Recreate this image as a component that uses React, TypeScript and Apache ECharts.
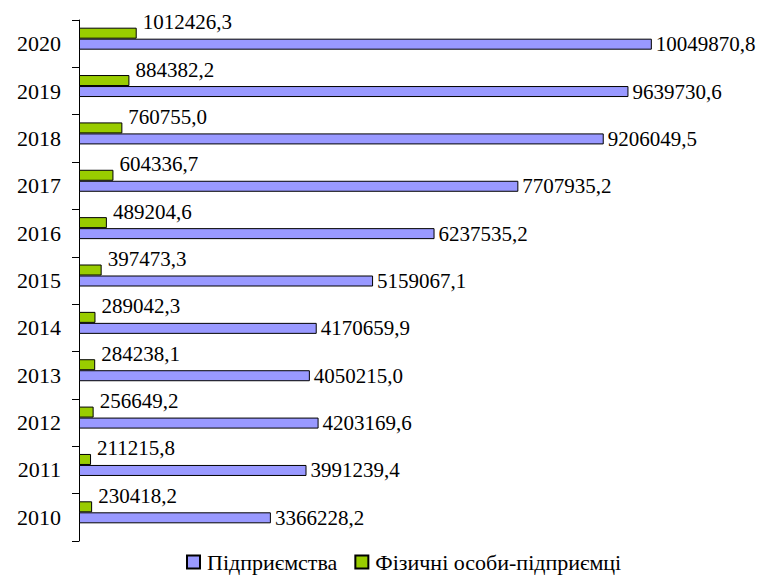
import React, { useEffect, useRef } from "react";
import * as echarts from "echarts";

const years = ["2010", "2011", "2012", "2013", "2014", "2015", "2016", "2017", "2018", "2019", "2020"];
const enterprises = [3366228.2, 3991239.4, 4203169.6, 4050215.0, 4170659.9, 5159067.1, 6237535.2, 7707935.2, 9206049.5, 9639730.6, 10049870.8];
const individuals = [230418.2, 211215.8, 256649.2, 284238.1, 289042.3, 397473.3, 489204.6, 604336.7, 760755.0, 884382.2, 1012426.3];
const seriesNames = ["Підприємства", "Фізичні особи-підприємці"];

const FONT = "Liberation Serif";
const fmt = (p: any) => Number(p.value).toFixed(1).replace(".", ",");

export default function App() {
  const ref = useRef<HTMLDivElement>(null);
  useEffect(() => {
    document.body.style.margin = "0";
    const chart = echarts.init(ref.current!, null, { renderer: "svg" });
    chart.setOption({
      animation: false,
      backgroundColor: "#ffffff",
      textStyle: { fontFamily: FONT },
      grid: [
        { left: 79, right: 53, top: 20, bottom: 35 },
        { left: 79, right: 53, top: 15, bottom: 40 },
      ],
      xAxis: [
        { gridIndex: 0, type: "value", min: 0, max: 11000000, show: false },
        { gridIndex: 1, type: "value", min: 0, max: 11000000, show: false },
      ],
      yAxis: [
        {
          gridIndex: 0,
          type: "category",
          data: years,
          axisLine: { show: true, lineStyle: { color: "#000", width: 1 } },
          axisTick: { show: true, length: 7, lineStyle: { color: "#000" } },
          axisLabel: { fontFamily: FONT, fontSize: 22, color: "#000", margin: 18 },
          splitLine: { show: false },
        },
        { gridIndex: 1, type: "category", data: years, show: false },
      ],
      legend: {
        data: seriesNames,
        left: 186,
        top: 551,
        padding: 0,
        icon: "rect",
        itemWidth: 13,
        itemHeight: 13,
        itemGap: 17,
        textStyle: { fontFamily: FONT, fontSize: 22, color: "#000", padding: [0, 0, 0, 2] },
      },
      series: [
        {
          name: seriesNames[1],
          type: "bar",
          xAxisIndex: 1,
          yAxisIndex: 1,
          data: individuals,
          barWidth: 11,
          barGap: "0%",
          itemStyle: { color: "#99CC00", borderColor: "#000", borderWidth: 1 },
          label: {
            show: true,
            position: "right",
            distance: 6,
            offset: [0, -11],
            formatter: fmt,
            fontFamily: FONT,
            fontSize: 21,
            color: "#000",
          },
        },
        {
          name: seriesNames[0],
          type: "bar",
          xAxisIndex: 1,
          yAxisIndex: 1,
          data: enterprises,
          barWidth: 11,
          barGap: "0%",
          itemStyle: { color: "#9999FF", borderColor: "#000", borderWidth: 1 },
          label: {
            show: true,
            position: "right",
            distance: 4,
            formatter: fmt,
            fontFamily: FONT,
            fontSize: 21,
            color: "#000",
          },
        },
      ],
    });
    return () => chart.dispose();
  }, []);
  return <div ref={ref} style={{ width: 759, height: 576 }} />;
}
